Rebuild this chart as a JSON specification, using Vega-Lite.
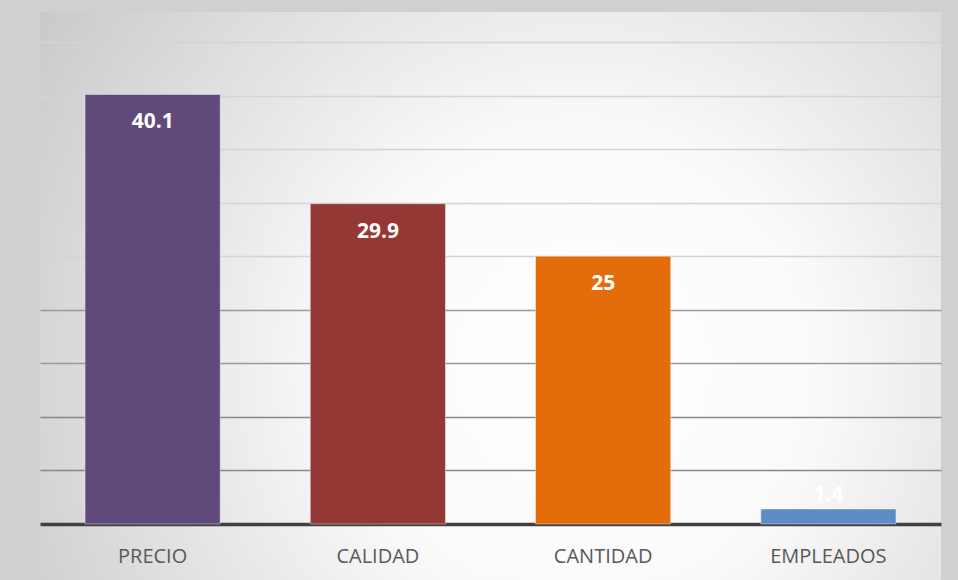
{
  "$schema": "https://vega.github.io/schema/vega-lite/v6.json",
  "width": 901,
  "height": 568,
  "autosize": {"type": "none"},
  "padding": {"left": 40, "right": 17, "top": 12, "bottom": 0},
  "background": "#d0d0d0",
  "view": {
    "stroke": null,
    "fill": {
      "gradient": "radial",
      "x1": 0.6, "y1": 0.58, "r1": 0,
      "x2": 0.6, "y2": 0.58, "r2": 0.75,
      "stops": [
        {"offset": 0, "color": "#ffffff"},
        {"offset": 0.35, "color": "#fafafa"},
        {"offset": 1, "color": "#c6c6c6"}
      ]
    }
  },
  "data": {
    "values": [
      {"cat": "PRECIO", "value": 40.1},
      {"cat": "CALIDAD", "value": 29.9},
      {"cat": "CANTIDAD", "value": 25},
      {"cat": "EMPLEADOS", "value": 1.4}
    ]
  },
  "encoding": {
    "x": {
      "field": "cat",
      "type": "nominal",
      "sort": null,
      "scale": {"paddingInner": 0.4, "paddingOuter": 0.2},
      "axis": {
        "title": null,
        "labelAngle": 0,
        "labelFont": "Open Sans",
        "labelFontSize": 20,
        "labelColor": "#595959",
        "labelPadding": 22,
        "ticks": false,
        "grid": false,
        "domainColor": "#404040",
        "domainWidth": 3.5,
        "offset": -56
      }
    },
    "y": {
      "field": "value",
      "type": "quantitative",
      "scale": {"domain": [-5.23, 47.8], "nice": false, "zero": false},
      "axis": {
        "title": null,
        "labels": false,
        "ticks": false,
        "domain": false,
        "grid": true,
        "values": [5, 10, 15, 20, 25, 30, 35, 40, 45],
        "gridWidth": 1.5,
        "gridColor": {
          "condition": [
            {"test": "datum.value <= 10", "value": "#888888"},
            {"test": "datum.value <= 20", "value": "#999999"}
          ],
          "value": "#d4d4d4"
        }
      }
    }
  },
  "layer": [
    {
      "mark": {"type": "bar", "stroke": "#ffffff", "strokeOpacity": 0.4, "strokeWidth": 1},
      "encoding": {
        "y2": {"datum": 0},
        "color": {
          "field": "cat",
          "type": "nominal",
          "sort": null,
          "scale": {
            "domain": ["PRECIO", "CALIDAD", "CANTIDAD", "EMPLEADOS"],
            "range": ["#604a7b", "#953735", "#e46c0a", "#5f8cc4"]
          },
          "legend": null
        }
      }
    },
    {
      "transform": [{"filter": "datum.value >= 5"}],
      "mark": {
        "type": "text",
        "font": "Open Sans",
        "fontSize": 21,
        "fontWeight": "bold",
        "color": "#ffffff",
        "baseline": "middle",
        "align": "center",
        "dy": 28
      },
      "encoding": {
        "text": {"field": "value", "type": "quantitative"}
      }
    },
    {
      "transform": [{"filter": "datum.value < 5"}],
      "mark": {
        "type": "text",
        "font": "Open Sans",
        "fontSize": 21,
        "fontWeight": "bold",
        "color": "#ffffff",
        "baseline": "middle",
        "align": "center",
        "dy": -14
      },
      "encoding": {
        "text": {"field": "value", "type": "quantitative"}
      }
    }
  ]
}
